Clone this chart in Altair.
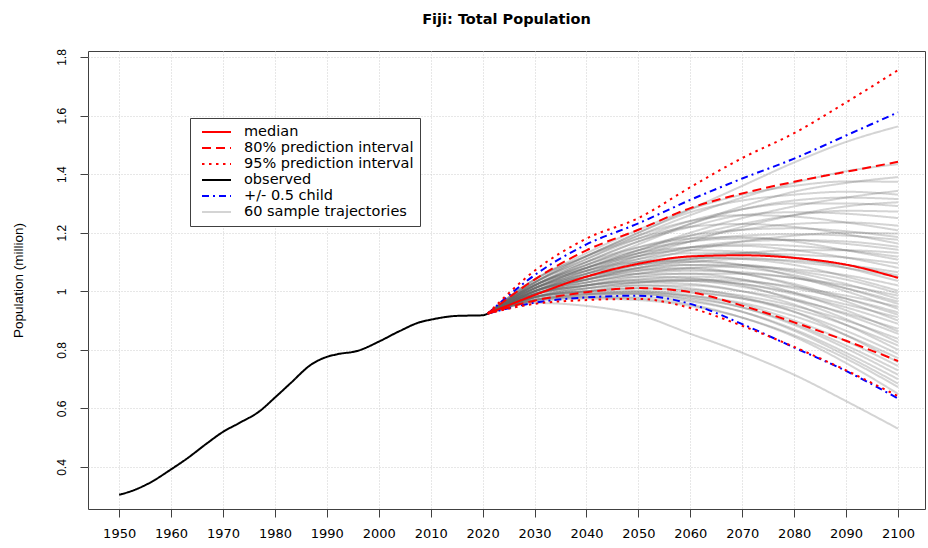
import altair as alt
import pandas as pd

# Observed population (million)
obs_years = [1950, 1953, 1956, 1960, 1963, 1967, 1970, 1973, 1977, 1980, 1983,
             1987, 1990, 1992, 1996, 2000, 2004, 2008, 2010, 2015, 2020, 2021]
obs_values = [0.305, 0.322, 0.347, 0.392, 0.428, 0.482, 0.520, 0.549, 0.590, 0.637, 0.686,
              0.750, 0.776, 0.785, 0.797, 0.828, 0.864, 0.895, 0.903, 0.916, 0.918, 0.924]

# Projection summaries
proj_years = [2021, 2030, 2040, 2050, 2060, 2070, 2080, 2090, 2100]
median = [0.924, 0.987, 1.050, 1.094, 1.119, 1.123, 1.114, 1.091, 1.046]
pi80_low = [0.924, 0.968, 0.997, 1.011, 0.997, 0.951, 0.894, 0.831, 0.762]
pi80_high = [0.924, 1.040, 1.140, 1.210, 1.284, 1.334, 1.374, 1.408, 1.442]
pi95_low = [0.924, 0.957, 0.970, 0.974, 0.943, 0.882, 0.810, 0.730, 0.642]
pi95_high = [0.924, 1.070, 1.180, 1.250, 1.355, 1.455, 1.540, 1.645, 1.755]
child_low = [0.924, 0.961, 0.979, 0.985, 0.957, 0.888, 0.808, 0.728, 0.634]
child_high = [0.924, 1.055, 1.160, 1.232, 1.312, 1.385, 1.453, 1.532, 1.611]

# Sample trajectories (all start from the 2021 value)
traj_start = 0.924
traj_years = [2030, 2040, 2050, 2060, 2070, 2080, 2090, 2100]
trajectories = [
    [1.040, 1.120, 1.200, 1.280, 1.360, 1.440, 1.510, 1.563],
    [1.030, 1.110, 1.190, 1.260, 1.320, 1.370, 1.410, 1.434],
    [1.020, 1.090, 1.160, 1.230, 1.290, 1.340, 1.370, 1.390],
    [1.040, 1.130, 1.210, 1.280, 1.330, 1.360, 1.375, 1.374],
    [1.010, 1.080, 1.140, 1.200, 1.250, 1.290, 1.320, 1.343],
    [1.030, 1.120, 1.200, 1.270, 1.310, 1.330, 1.340, 1.330],
    [1.020, 1.100, 1.170, 1.230, 1.280, 1.310, 1.320, 1.315],
    [1.000, 1.060, 1.120, 1.170, 1.220, 1.260, 1.290, 1.304],
    [1.030, 1.110, 1.180, 1.240, 1.280, 1.300, 1.300, 1.291],
    [1.010, 1.080, 1.140, 1.190, 1.230, 1.260, 1.275, 1.272],
    [1.020, 1.100, 1.170, 1.220, 1.260, 1.270, 1.265, 1.250],
    [1.000, 1.070, 1.130, 1.180, 1.210, 1.230, 1.235, 1.224],
    [1.030, 1.120, 1.190, 1.240, 1.260, 1.255, 1.235, 1.208],
    [0.990, 1.050, 1.100, 1.140, 1.170, 1.190, 1.200, 1.197],
    [1.020, 1.090, 1.150, 1.190, 1.210, 1.215, 1.205, 1.185],
    [1.010, 1.080, 1.130, 1.170, 1.190, 1.195, 1.190, 1.176],
    [1.040, 1.120, 1.180, 1.220, 1.230, 1.220, 1.195, 1.163],
    [1.000, 1.060, 1.110, 1.150, 1.170, 1.175, 1.170, 1.152],
    [1.020, 1.090, 1.140, 1.170, 1.180, 1.175, 1.162, 1.142],
    [0.990, 1.040, 1.080, 1.110, 1.130, 1.140, 1.140, 1.131],
    [1.010, 1.070, 1.120, 1.150, 1.160, 1.155, 1.140, 1.118],
    [1.030, 1.100, 1.150, 1.180, 1.185, 1.170, 1.140, 1.108],
    [1.000, 1.050, 1.090, 1.120, 1.130, 1.125, 1.115, 1.095],
    [1.020, 1.080, 1.130, 1.150, 1.155, 1.140, 1.115, 1.080],
    [0.990, 1.040, 1.080, 1.100, 1.110, 1.105, 1.090, 1.065],
    [1.010, 1.070, 1.110, 1.130, 1.130, 1.115, 1.090, 1.054],
    [1.000, 1.050, 1.090, 1.110, 1.115, 1.100, 1.080, 1.048],
    [1.020, 1.080, 1.120, 1.140, 1.135, 1.115, 1.080, 1.035],
    [0.990, 1.030, 1.060, 1.080, 1.085, 1.075, 1.055, 1.020],
    [1.010, 1.060, 1.100, 1.115, 1.110, 1.090, 1.050, 1.002],
    [1.000, 1.040, 1.070, 1.090, 1.090, 1.070, 1.040, 0.993],
    [0.980, 1.020, 1.050, 1.060, 1.060, 1.045, 1.020, 0.985],
    [1.010, 1.060, 1.090, 1.100, 1.090, 1.065, 1.025, 0.974],
    [0.990, 1.030, 1.060, 1.070, 1.065, 1.045, 1.010, 0.965],
    [1.000, 1.050, 1.080, 1.090, 1.080, 1.055, 1.010, 0.957],
    [0.980, 1.010, 1.030, 1.040, 1.035, 1.015, 0.985, 0.948],
    [1.020, 1.070, 1.100, 1.105, 1.090, 1.050, 1.000, 0.940],
    [0.990, 1.020, 1.040, 1.050, 1.040, 1.010, 0.975, 0.928],
    [1.000, 1.040, 1.070, 1.075, 1.060, 1.025, 0.975, 0.920],
    [0.980, 1.010, 1.030, 1.035, 1.025, 0.995, 0.955, 0.911],
    [1.010, 1.050, 1.075, 1.080, 1.060, 1.020, 0.965, 0.900],
    [0.990, 1.020, 1.040, 1.040, 1.025, 0.990, 0.945, 0.889],
    [0.980, 1.000, 1.020, 1.020, 1.000, 0.970, 0.925, 0.872],
    [1.000, 1.040, 1.060, 1.060, 1.040, 0.995, 0.935, 0.863],
    [0.990, 1.020, 1.035, 1.035, 1.015, 0.975, 0.920, 0.855],
    [0.980, 1.000, 1.010, 1.005, 0.985, 0.950, 0.900, 0.838],
    [1.000, 1.030, 1.050, 1.045, 1.020, 0.970, 0.905, 0.826],
    [0.970, 0.990, 1.000, 0.995, 0.975, 0.940, 0.885, 0.815],
    [0.990, 1.020, 1.030, 1.025, 1.000, 0.955, 0.885, 0.800],
    [0.980, 1.000, 1.010, 1.000, 0.975, 0.930, 0.865, 0.786],
    [0.970, 0.990, 0.995, 0.985, 0.960, 0.915, 0.850, 0.772],
    [0.990, 1.010, 1.020, 1.010, 0.980, 0.930, 0.850, 0.758],
    [0.980, 1.000, 1.000, 0.985, 0.955, 0.900, 0.830, 0.745],
    [0.970, 0.985, 0.990, 0.975, 0.945, 0.890, 0.815, 0.730],
    [0.980, 0.995, 0.995, 0.980, 0.945, 0.885, 0.805, 0.715],
    [0.970, 0.980, 0.980, 0.965, 0.930, 0.870, 0.790, 0.700],
    [0.975, 0.990, 0.990, 0.970, 0.930, 0.865, 0.780, 0.685],
    [0.965, 0.975, 0.970, 0.950, 0.910, 0.850, 0.770, 0.673],
    [0.970, 0.980, 0.975, 0.955, 0.910, 0.845, 0.755, 0.650],
    [0.960, 0.950, 0.920, 0.855, 0.790, 0.715, 0.625, 0.531],
]

# Legend entries and their styles
series_names = ["median", "80% prediction interval", "95% prediction interval",
                "observed", "+/- 0.5 child", "60 sample trajectories"]
series_colors = ["#ff0000", "#ff0000", "#ff0000", "#000000", "#0000ff", "rgba(100,100,100,0.28)"]
series_dash = [[1, 0], [9, 5], [2.5, 4.5], [1, 0], [7, 4, 2, 4], [1, 0]]
series_width = [2, 2, 2, 2, 2, 1.2]

FONT = "Liberation Sans"
WIDE = "DejaVu Sans"


def long_rows(name, run, years, values):
    return [{"series": name, "run": run, "year": y, "value": v} for y, v in zip(years, values)]


traj_rows = []
for i, tr in enumerate(trajectories):
    traj_rows += long_rows(series_names[5], f"t{i}", [2021] + traj_years, [traj_start] + tr)
traj_df = pd.DataFrame(traj_rows)

obs_df = pd.DataFrame(long_rows(series_names[3], "obs", obs_years, obs_values))
child_df = pd.DataFrame(long_rows(series_names[4], "lo", proj_years, child_low)
                        + long_rows(series_names[4], "hi", proj_years, child_high))
pi95_df = pd.DataFrame(long_rows(series_names[2], "lo", proj_years, pi95_low)
                       + long_rows(series_names[2], "hi", proj_years, pi95_high))
pi80_df = pd.DataFrame(long_rows(series_names[1], "lo", proj_years, pi80_low)
                       + long_rows(series_names[1], "hi", proj_years, pi80_high))
med_df = pd.DataFrame(long_rows(series_names[0], "med", proj_years, median))

legend = alt.Legend(
    title=None, orient="none", legendX=102, legendY=67,
    symbolType="stroke", symbolSize=841, clipHeight=16, rowPadding=0, symbolOffset=5,
    labelFont=WIDE, labelFontSize=14.5, labelColor="black", labelOffset=12, labelLimit=400,
    padding=6, strokeColor="#404040", fillColor="white", cornerRadius=0,
)

x_enc = alt.X(
    "year:Q",
    scale=alt.Scale(domain=[1944, 2105.2], nice=False, zero=False),
    axis=alt.Axis(values=list(range(1950, 2101, 10)), format="d", title=None,
                  labelFont=WIDE, labelFontSize=13,
                  labelOverlap=False, labelFlush=False, tickSize=8, labelPadding=10),
)
y_enc = alt.Y(
    "value:Q",
    scale=alt.Scale(domain=[0.2566, 1.8205], nice=False, zero=False),
    axis=alt.Axis(values=[0.4, 0.6, 0.8, 1.0, 1.2, 1.4, 1.6, 1.8], format="~g",
                  title="Population (million)", titleAngle=270, titleX=-70, titleY=229,
                  titleAlign="center", titleBaseline="middle", titleFontSize=13.5,
                  titleFontWeight="normal", titleFont=FONT,
                  labelFont=FONT, labelFontSize=12,
                  labelAngle=270, labelAlign="center", labelBaseline="bottom",
                  labelPadding=12, tickSize=8),
)


def layer(df):
    return alt.Chart(df).mark_line(interpolate="monotone").encode(
        x=x_enc,
        y=y_enc,
        detail="run:N",
        color=alt.Color("series:N", scale=alt.Scale(domain=series_names, range=series_colors), legend=legend),
        strokeDash=alt.StrokeDash("series:N", scale=alt.Scale(domain=series_names, range=series_dash), legend=legend),
        strokeWidth=alt.StrokeWidth("series:N", scale=alt.Scale(domain=series_names, range=series_width), legend=legend),
    )


chart = alt.layer(
    layer(traj_df), layer(obs_df), layer(child_df), layer(pi95_df), layer(pi80_df), layer(med_df)
).properties(
    width=837, height=458,
    autosize=alt.AutoSizeParams(type="none"),
    padding={"left": 88, "top": 51, "right": 3, "bottom": 39},
    background="white",
    title=alt.Title("Fiji: Total Population", font=WIDE, fontSize=14.5, fontWeight="bold",
                    anchor="middle", offset=10, baseline="alphabetic", color="black"),
).configure_view(
    stroke="#404040", strokeWidth=1,
).configure_axis(
    domain=False, grid=True, gridColor="#cfcfcf", gridDash=[1, 2], gridWidth=1,
    tickColor="#404040", labelColor="black",
)

chart.save("out.html", embed_options={"renderer": "svg", "actions": False})
